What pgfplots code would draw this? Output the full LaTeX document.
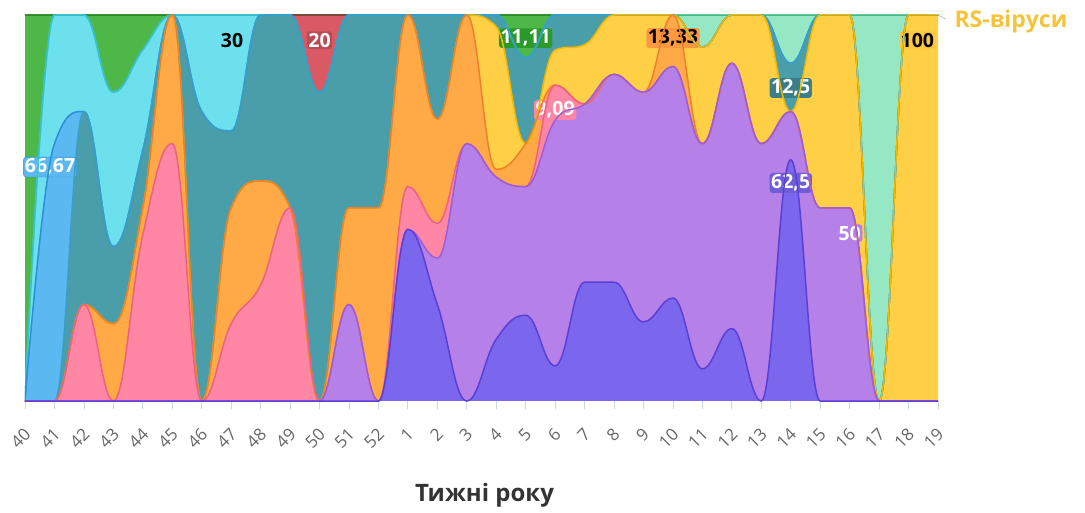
\documentclass[border=0pt]{standalone}
\usepackage{pgfplots}
\pgfplotsset{compat=1.18}
\usepackage{pgfplotstable}
\usepackage{fontspec}
\setmainfont{Open Sans}

\makeatletter
% Highcharts-like spline handler (control points clamped to avoid false extremes)
\newcount\hc@n \newcount\hc@i \newcount\hc@j
\newdimen\hc@xl \newdimen\hc@yl \newdimen\hc@xm \newdimen\hc@ym
\newdimen\hc@xr \newdimen\hc@yr \newdimen\hc@lx \newdimen\hc@ly
\newdimen\hc@rx \newdimen\hc@ry \newdimen\hc@d \newdimen\hc@ax \newdimen\hc@ay
\def\pgfplothandlerhc{%
  \def\pgf@plotstreamstart{%
    \global\hc@n=0\relax
    \global\let\pgf@plotstreampoint=\hc@point
    \global\let\pgf@plotstreamspecial=\pgfutil@gobble
    \global\let\pgf@plotstreamend=\hc@end
  }%
}
\def\hc@point#1{%
  \pgf@process{#1}%
  \global\advance\hc@n by 1\relax
  \expandafter\xdef\csname hc@x@\the\hc@n\endcsname{\the\pgf@x}%
  \expandafter\xdef\csname hc@y@\the\hc@n\endcsname{\the\pgf@y}%
}
\def\hc@load#1#2#3{%
  #2=\csname hc@x@\number#1\endcsname\relax
  #3=\csname hc@y@\number#1\endcsname\relax
}
\def\hc@controls#1{%
  \hc@j=#1\relax
  \hc@load\hc@j\hc@xm\hc@ym
  \hc@lx=\hc@xm \hc@ly=\hc@ym \hc@rx=\hc@xm \hc@ry=\hc@ym
  \ifnum\hc@j>1\relax\ifnum\hc@j<\hc@n\relax
    \advance\hc@j by -1\relax \hc@load\hc@j\hc@xl\hc@yl
    \advance\hc@j by 2\relax \hc@load\hc@j\hc@xr\hc@yr
    \hc@lx=\hc@xl \advance\hc@lx by -\hc@xm \hc@lx=0.4\hc@lx \advance\hc@lx by \hc@xm
    \hc@rx=\hc@xr \advance\hc@rx by -\hc@xm \hc@rx=0.4\hc@rx \advance\hc@rx by \hc@xm
    \hc@d=\hc@yr \advance\hc@d by -\hc@yl \hc@d=0.2\hc@d
    \hc@ly=\hc@ym \advance\hc@ly by -\hc@d
    \hc@ry=\hc@ym \advance\hc@ry by \hc@d
    \ifdim\hc@ly>\hc@yl \ifdim\hc@ly>\hc@ym
      \ifdim\hc@yl>\hc@ym \hc@ly=\hc@yl \else \hc@ly=\hc@ym \fi
      \hc@ry=2\hc@ym \advance\hc@ry by -\hc@ly
    \fi\fi
    \ifdim\hc@ly<\hc@yl \ifdim\hc@ly<\hc@ym
      \ifdim\hc@yl<\hc@ym \hc@ly=\hc@yl \else \hc@ly=\hc@ym \fi
      \hc@ry=2\hc@ym \advance\hc@ry by -\hc@ly
    \fi\fi
    \ifdim\hc@ry>\hc@yr \ifdim\hc@ry>\hc@ym
      \ifdim\hc@yr>\hc@ym \hc@ry=\hc@yr \else \hc@ry=\hc@ym \fi
      \hc@ly=2\hc@ym \advance\hc@ly by -\hc@ry
    \fi\fi
    \ifdim\hc@ry<\hc@yr \ifdim\hc@ry<\hc@ym
      \ifdim\hc@yr<\hc@ym \hc@ry=\hc@yr \else \hc@ry=\hc@ym \fi
      \hc@ly=2\hc@ym \advance\hc@ly by -\hc@ry
    \fi\fi
  \fi\fi
}
\def\hc@end{%
  \ifnum\hc@n>0\relax
    \hc@controls{1}%
    \pgf@plot@first@action{\pgfqpoint{\hc@xm}{\hc@ym}}%
    \hc@i=1\relax
    \hc@loop
  \fi
}
\def\hc@loop{%
  \ifnum\hc@i<\hc@n\relax
    \hc@controls{\the\hc@i}%
    \hc@ax=\hc@rx \hc@ay=\hc@ry
    \advance\hc@i by 1\relax
    \hc@controls{\the\hc@i}%
    \pgfpathcurveto{\pgfqpoint{\hc@ax}{\hc@ay}}{\pgfqpoint{\hc@lx}{\hc@ly}}{\pgfqpoint{\hc@xm}{\hc@ym}}%
    \expandafter\hc@loop
  \fi
}
\tikzset{hcspline/.code={\let\tikz@plot@handler=\pgfplothandlerhc}}
\makeatother

\definecolor{dvF}{HTML}{7A67EE}\definecolor{dvL}{HTML}{5B3FD6}
\definecolor{lpF}{HTML}{B580E8}\definecolor{lpL}{HTML}{9A5FD8}
\definecolor{pkF}{HTML}{FF87A5}\definecolor{pkL}{HTML}{F0607F}
\definecolor{orF}{HTML}{FFAA46}\definecolor{orL}{HTML}{F07F2A}
\definecolor{yeF}{HTML}{FFD046}\definecolor{yeL}{HTML}{F5B800}
\definecolor{teF}{HTML}{4A9EAA}\definecolor{teL}{HTML}{3A9FC8}
\definecolor{blF}{HTML}{5CB8F0}\definecolor{blL}{HTML}{2C8FD8}
\definecolor{lcF}{HTML}{6CE0EC}\definecolor{lcL}{HTML}{35C0D8}
\definecolor{miF}{HTML}{96E8C4}\definecolor{miL}{HTML}{5CCFA8}
\definecolor{grF}{HTML}{4DB848}\definecolor{grL}{HTML}{2A9A2A}
\definecolor{rdF}{HTML}{D95A64}\definecolor{rdL}{HTML}{7A4A3A}
\definecolor{tick}{HTML}{CCD6EB}
\definecolor{ticklab}{HTML}{666666}
\definecolor{rsY}{HTML}{F7C33B}

\pgfplotstableread{
x dv lp pk or ye te bl lc mi gr rd
0 0 0 0 0 0 0 0 0 0 100 0
1 0 0 0 0 0 0 66.67 33.33 0 0 0
2 0 0 25 0 0 50 0 25 0 0 0
3 0 0 0 20 0 20 0 40 0 20 0
4 0 0 43 7 0 15 0 26 0 9 0
5 0 0 66.67 33.33 0 0 0 0 0 0 0
6 0 0 0 0 0 75 0 25 0 0 0
7 0 0 20 30 0 20 0 30 0 0 0
8 0 0 30 27 0 43 0 0 0 0 0
9 0 0 50 0 0 50 0 0 0 0 0
10 0 0 0 0 0 80 0 0 0 0 20
11 0 25 0 25 0 50 0 0 0 0 0
12 0 0 0 50 0 50 0 0 0 0 0
13 44.44 0 11.11 44.45 0 0 0 0 0 0 0
14 25 12 9 27 0 27 0 0 0 0 0
15 0 66.67 0 33.33 0 0 0 0 0 0 0
16 16 42 0 2 37 3 0 0 0 0 0
17 22.22 33.33 0 11.11 0 22.23 0 0 0 11.11 0
18 9.09 63.64 9.09 0 9.09 9.09 0 0 0 0 0
19 30.77 46.15 0 0 15.38 7.7 0 0 0 0 0
20 30.77 53.85 0 0 15.38 0 0 0 0 0 0
21 20.5 59.5 0 0 20 0 0 0 0 0 0
22 26.67 60 0 13.33 0 0 0 0 0 0 0
23 8.33 58.33 0 0 25 0 0 0 8.34 0 0
24 18.75 68.75 0 0 12.5 0 0 0 0 0 0
25 0 66.67 0 0 33.33 0 0 0 0 0 0
26 62.5 12.5 0 0 0 12.5 0 0 12.5 0 0
27 0 50 0 0 50 0 0 0 0 0 0
28 0 50 0 0 50 0 0 0 0 0 0
29 0 0 0 0 0 0 0 0 100 0 0
30 0 0 0 0 100 0 0 0 0 0 0
31 0 0 0 0 100 0 0 0 0 0 0
}\data

\pgfplotsset{
  common/.style={
    at={(0,0)}, anchor=south west,
    scale only axis, width=913bp, height=386bp,
    xmin=0, xmax=31, ymin=0, ymax=100,
    clip mode=individual,
    stack plots=y,
  },
}

\tikzset{lab/.style={font=\fontsize{19.5bp}{22bp}\selectfont\bfseries, rounded corners=3bp, inner sep=1.6bp}}

\begin{document}
\begin{tikzpicture}
\useasboundingbox (-25bp,-112bp) rectangle (1060bp,401bp);
\begin{axis}[common,
  axis line style={draw=none},
  ytick=\empty,
  xtick={0,...,31},
  xticklabels={40,41,42,43,44,45,46,47,48,49,50,51,52,1,2,3,4,5,6,7,8,9,10,11,12,13,14,15,16,17,18,19},
  xtick pos=bottom,
  tick align=outside,
  major tick length=8bp,
  tick style={draw=tick, line width=0.8bp},
  xticklabel style={xshift=5bp, yshift=-20bp, rotate=45, anchor=east,
    font=\fontsize{17bp}{19bp}\selectfont, text=ticklab},
]
\addplot[draw=none, fill=dvF, hcspline] table[x=x, y=dv]{\data} \closedcycle;
\addplot[draw=none, fill=lpF, hcspline] table[x=x, y=lp]{\data} \closedcycle;
\addplot[draw=none, fill=pkF, hcspline] table[x=x, y=pk]{\data} \closedcycle;
\addplot[draw=none, fill=orF, hcspline] table[x=x, y=or]{\data} \closedcycle;
\addplot[draw=none, fill=yeF, hcspline] table[x=x, y=ye]{\data} \closedcycle;
\addplot[draw=none, fill=teF, hcspline] table[x=x, y=te]{\data} \closedcycle;
\addplot[draw=none, fill=blF, hcspline] table[x=x, y=bl]{\data} \closedcycle;
\addplot[draw=none, fill=lcF, hcspline] table[x=x, y=lc]{\data} \closedcycle;
\addplot[draw=none, fill=miF, hcspline] table[x=x, y=mi]{\data} \closedcycle;
\addplot[draw=none, fill=grF, hcspline] table[x=x, y=gr]{\data} \closedcycle;
\addplot[draw=none, fill=rdF, hcspline] table[x=x, y=rd]{\data} \closedcycle;
\end{axis}
\begin{axis}[common, hide axis]
\addplot[dvL, line width=1.5bp, hcspline] table[x=x, y=dv]{\data};
\addplot[lpL, line width=1.5bp, hcspline] table[x=x, y=lp]{\data};
\addplot[pkL, line width=1.5bp, hcspline] table[x=x, y=pk]{\data};
\addplot[orL, line width=1.5bp, hcspline] table[x=x, y=or]{\data};
\addplot[yeL, line width=1.5bp, hcspline] table[x=x, y=ye]{\data};
\addplot[teL, line width=1.5bp, hcspline] table[x=x, y=te]{\data};
\addplot[blL, line width=1.5bp, hcspline] table[x=x, y=bl]{\data};
\addplot[lcL, line width=1.5bp, hcspline] table[x=x, y=lc]{\data};
\addplot[miL, line width=1.5bp, hcspline] table[x=x, y=mi]{\data};
\addplot[grL, line width=1.5bp, hcspline] table[x=x, y=gr]{\data};
\addplot[rdL, line width=2.5bp, hcspline] table[x=x, y=rd]{\data};

\node[lab, fill=blF, draw=blL, text=white] at (axis cs:0.85,60.6) {66,67};
\node[lab, fill=lcF, text=black] at (axis cs:7.03,93.5) {30};
\node[lab, fill=rdF!85!black, text=white] at (axis cs:10,93.5) {20};
\node[lab, fill=grL, text=white] at (axis cs:17,94) {11,11};
\node[lab, fill=pkF, text=white] at (axis cs:18,75.4) {9,09};
\node[lab, fill=orF!90!red, text=black] at (axis cs:22,94) {13,33};
\node[lab, fill=teF!80!black, text=white] at (axis cs:26,81.1) {12,5};
\node[lab, fill=dvF!90!black, text=white] at (axis cs:26,56.5) {62,5};
\node[lab, fill=lpF, text=white] at (axis cs:28,43.5) {50};
\node[lab, fill=yeF!90!orange, text=black] at (axis cs:30.3,93.5) {100};

\draw[gray!50, line width=0.8bp] (rel axis cs:1,1) -- ++(8bp,-4bp);
\node[anchor=west, text=rsY, font=\fontsize{23bp}{26bp}\selectfont\bfseries]
  at (rel axis cs:1,1) [xshift=13bp, yshift=-7bp] {RS-віруси};
\node[text=black!80, font=\fontsize{24bp}{28bp}\selectfont\bfseries]
  at (rel axis cs:0.5,0) [xshift=3bp, yshift=-94bp] {Тижні року};
\end{axis}
\end{tikzpicture}
\end{document}
